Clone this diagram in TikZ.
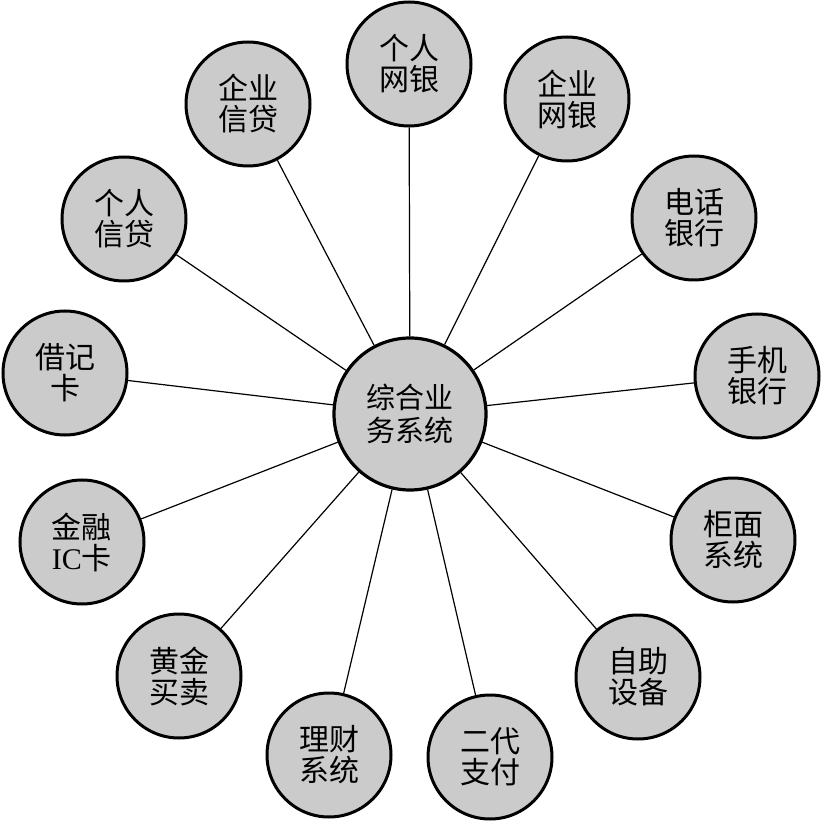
\documentclass[tikz,border=0pt]{standalone}
\usepackage{fontspec}
\setmainfont{Liberation Serif}
\newfontfamily\cjk{Noto Sans CJK SC}
\definecolor{circgray}{HTML}{CBCBCB}
\begin{document}
\begin{tikzpicture}[x=1pt,y=-1pt,
  leaf/.style={circle,draw=black,line width=3pt,fill=circgray,minimum size=124pt,inner sep=0pt,align=center,
    font=\fontsize{30}{31}\selectfont\cjk},
  hub/.style={circle,draw=black,line width=3.2pt,fill=circgray,minimum size=152pt,inner sep=0pt,align=center,
    font=\fontsize{29}{33}\selectfont\cjk},
  link/.style={line width=1.2pt,draw=black}]
\useasboundingbox (0,0) rectangle (823,821);
\node[hub] (c) at (410,414) {综合业\\务系统};
\node[leaf] (n1) at (409,64) {个人\\网银};
\node[leaf] (n2) at (567,99) {企业\\网银};
\node[leaf] (n3) at (694,218) {电话\\银行};
\node[leaf] (n4) at (757,376) {手机\\银行};
\node[leaf] (n5) at (733,540) {柜面\\系统};
\node[leaf] (n6) at (638,677) {自助\\设备};
\node[leaf] (n7) at (490,757) {二代\\支付};
\node[leaf] (n8) at (329,755) {理财\\系统};
\node[leaf] (n9) at (179,676) {黄金\\买卖};
\node[leaf] (n10) at (82,542) {金融\\{\rmfamily IC}卡};
\node[leaf] (n11) at (65,373) {借记\\卡};
\node[leaf] (n12) at (124,219) {个人\\信贷};
\node[leaf] (n13) at (248,104) {企业\\信贷};
\foreach \i in {1,...,13} {\draw[link] (c) -- (n\i);}
\end{tikzpicture}
\end{document}
